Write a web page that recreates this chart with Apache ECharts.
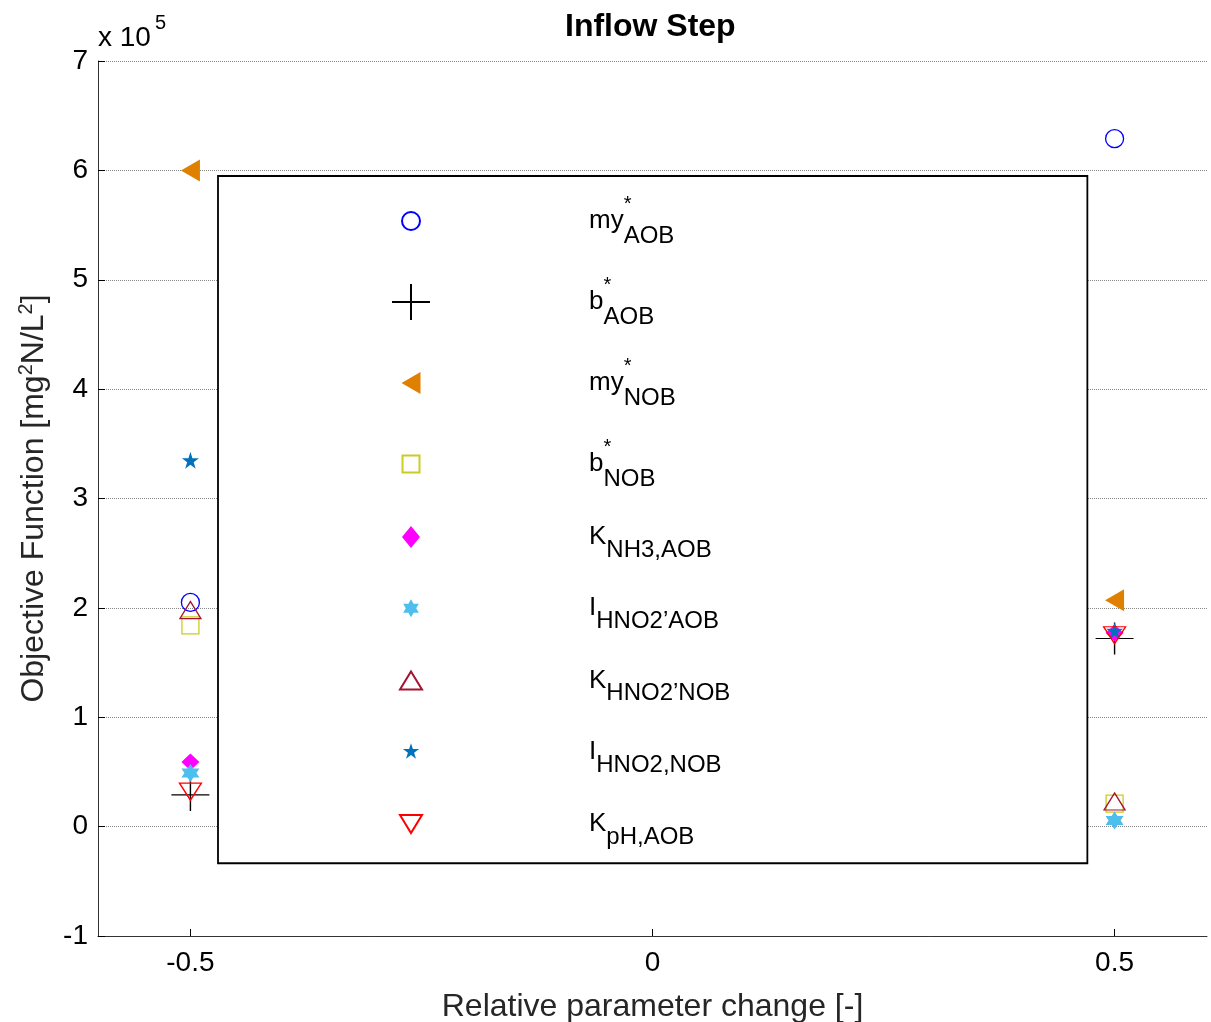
<!DOCTYPE html>
<html lang="en">
<head>
  <meta charset="UTF-8">
  <title>Inflow Step</title>
  <script src="https://cdn.jsdelivr.net/npm/echarts@6/dist/echarts.min.js"></script>
  <style>html,body{margin:0;padding:0;background:#fff}</style>
</head>
<body>
  <div id="main" style="width:1211px;height:1022px"></div>
  <script>
    // relative parameter change of the two runs
    const changes = [-0.5, 0.5]
    const xTickLabels = [-0.5, 0, 0.5]
    // legend label parts: base, superscript, subscript
    const labelBase = ['my', 'b', 'my', 'b', 'K', 'I', 'K', 'I', 'K']
    const labelSup = ['*', '*', '*', '*', '', '', '', '', '']
    const labelSub = ['AOB', 'AOB', 'NOB', 'NOB', 'NH3,AOB', 'HNO2’AOB', 'HNO2’NOB', 'HNO2,NOB', 'pH,AOB']
    // objective function (x 10^5) at -0.5 and at +0.5
    const valuesMinus = [2.05, 0.29, 6.0, 1.84, 0.59, 0.49, 1.98, 3.35, 0.32]
    const valuesPlus = [6.29, 1.72, 2.07, 0.21, 1.77, 0.055, 0.23, 1.79, 1.75]

    const FONT = "'Liberation Sans', Arial, sans-serif"
    const PENTAGRAM = 'path://M10,0L12.245,6.91L19.511,6.91L13.633,11.18L15.878,18.09L10,13.82L4.122,18.09L6.367,11.18L0.489,6.91L7.755,6.91Z'
    const HEXAGRAM = 'path://M10,0L12.887,5L18.66,5L15.774,10L18.66,15L12.887,15L10,20L7.113,15L1.34,15L4.226,10L1.34,5L7.113,5Z'
    const PLUS = 'path://M0,10L20,10M10,0L10,20'

    // marker style per parameter (plot symbol + legend icon in a 38px box)
    const BOX = 'M0,0M38,38'
    const markers = [
      { symbol: 'circle', size: 18, color: '#0000ff', hollow: true,
        icon: BOX + 'M28,19A9,9,0,1,1,10,19A9,9,0,1,1,28,19Z' },
      { symbol: PLUS, size: [38, 32], color: '#000000', hollow: true,
        icon: BOX + 'M0,19L38,19M19,1L19,37' },
      { symbol: 'triangle', size: [22, 19], rotate: 90, color: '#e08000',
        icon: BOX + 'M28.5,8L28.5,30L9.5,19Z' },
      { symbol: 'rect', size: 17, color: '#cccc22', hollow: true,
        icon: BOX + 'M10.5,10.5L27.5,10.5L27.5,27.5L10.5,27.5Z' },
      { symbol: 'diamond', size: [18, 17], color: '#ff00ff',
        icon: BOX + 'M19,8L28,19L19,30L10,19Z' },
      { symbol: HEXAGRAM, size: 18, color: '#4dbeee',
        icon: BOX + 'M19,10L21.6,14.5L26.8,14.5L24.2,19L26.8,23.5L21.6,23.5L19,28L16.4,23.5L11.2,23.5L13.8,19L11.2,14.5L16.4,14.5Z' },
      { symbol: 'triangle', size: [21, 17], color: '#a2142f', hollow: true,
        icon: BOX + 'M19,10L30,28L8,28Z' },
      { symbol: PENTAGRAM, size: 17, color: '#0072bd',
        icon: BOX + 'M19,10.5L20.91,16.37L27.08,16.37L22.09,20L24,25.88L19,22.25L14,25.88L15.91,20L10.92,16.37L17.09,16.37Z' },
      { symbol: 'triangle', size: [22, 17], rotate: 180, color: '#ff0000', hollow: true,
        icon: BOX + 'M8,10L30,10L19,28Z' }
    ]

    const names = labelBase.map((b, i) => b + labelSup[i] + labelSub[i])

    const series = names.map((name, i) => {
      const m = markers[i]
      return {
        name: name,
        type: 'scatter',
        symbol: m.symbol,
        symbolSize: m.size,
        symbolRotate: m.rotate || 0,
        itemStyle: m.hollow
          ? { color: 'rgba(0,0,0,0)', borderColor: m.color, borderWidth: 1.3, opacity: 1 }
          : { color: m.color, borderWidth: 0, opacity: 1 },
        emphasis: { disabled: true },
        data: changes.map((x, k) => [x, k === 0 ? valuesMinus[i] : valuesPlus[i]])
      }
    })

    let myChart = echarts.init(document.getElementById('main'))
    let options = {
      backgroundColor: '#fff',
      animation: false,
      title: {
        text: 'Inflow Step',
        left: 560,
        top: 6,
        textStyle: { fontSize: 32, fontWeight: 'bold', color: '#000', fontFamily: FONT }
      },
      grid: { left: 98, right: 4, top: 61, bottom: 86, outerBoundsMode: 'none' },
      legend: {
        orient: 'vertical',
        left: 218,
        top: 176,
        itemWidth: 38,
        itemHeight: 38,
        itemGap: 27,
        padding: [18, 357, 14, 173],
        backgroundColor: '#fff',
        borderColor: '#000',
        borderWidth: 1.8,
        borderRadius: 0,
        selectedMode: false,
        data: names.map((n, i) => ({ name: n, icon: 'path://' + markers[i].icon })),
        formatter(name) {
          const i = names.indexOf(name)
          if (labelSup[i]) {
            return '{g| }{bs|' + labelBase[i] + '}{p|' + labelSup[i] + '}{ss|' + labelSub[i] + '}'
          }
          return '{g| }{b|' + labelBase[i] + '}{s|' + labelSub[i] + '}'
        },
        textStyle: {
          color: '#000',
          fontFamily: FONT,
          rich: {
            g: { width: 154, fontSize: 10 },
            b: { fontSize: 26, lineHeight: 50.5, verticalAlign: 'middle', fontFamily: FONT },
            bs: { fontSize: 26, lineHeight: 54, verticalAlign: 'middle', fontFamily: FONT },
            p: { fontSize: 20, lineHeight: 32, verticalAlign: 'top', width: 0, fontFamily: FONT },
            s: { fontSize: 24, lineHeight: 16, verticalAlign: 'bottom', fontFamily: FONT },
            ss: { fontSize: 24, lineHeight: 22, verticalAlign: 'bottom', fontFamily: FONT }
          }
        }
      },
      xAxis: {
        type: 'value',
        min: -0.6,
        max: 0.6,
        splitNumber: 2,
        name: 'Relative parameter change [-]',
        nameLocation: 'middle',
        nameGap: 55,
        nameTextStyle: { fontSize: 32, color: '#262626', fontFamily: FONT },
        axisLine: { onZero: false, lineStyle: { color: '#333', width: 1 } },
        axisTick: { inside: true, length: 7, lineStyle: { color: '#000' } },
        axisLabel: {
          fontSize: 28,
          color: '#000',
          margin: 13,
          fontFamily: FONT,
          showMinLabel: false,
          showMaxLabel: false,
          formatter(v) {
            return xTickLabels.some(t => Math.abs(t - v) < 1e-9) ? String(v) : ''
          }
        },
        splitLine: { show: false }
      },
      yAxis: {
        type: 'value',
        min: -1,
        max: 7,
        interval: 1,
        name: 'Objective Function [mg{sup|2}N/L{sup|2}]',
        nameLocation: 'middle',
        nameGap: 42,
        nameTextStyle: {
          fontSize: 32,
          lineHeight: 36,
          color: '#262626',
          fontFamily: FONT,
          rich: { sup: { fontSize: 20, lineHeight: 14, verticalAlign: 'top', color: '#262626', fontFamily: FONT } }
        },
        axisLine: { onZero: false, show: true, lineStyle: { color: '#333', width: 1 } },
        axisTick: { show: true, inside: true, length: 7, lineStyle: { color: '#000' } },
        axisLabel: { fontSize: 28, color: '#000', margin: 10, fontFamily: FONT },
        splitLine: { show: true, lineStyle: { color: '#888', type: 'dotted', width: 1 } }
      },
      graphic: [
        { type: 'text', left: 98, top: 24, style: { text: 'x 10', fontSize: 28, fill: '#000', fontFamily: FONT } },
        { type: 'text', left: 155, top: 13, style: { text: '5', fontSize: 20, fill: '#000', fontFamily: FONT } }
      ],
      series: series
    }
    myChart.setOption(options)
  </script>
</body>
</html>
